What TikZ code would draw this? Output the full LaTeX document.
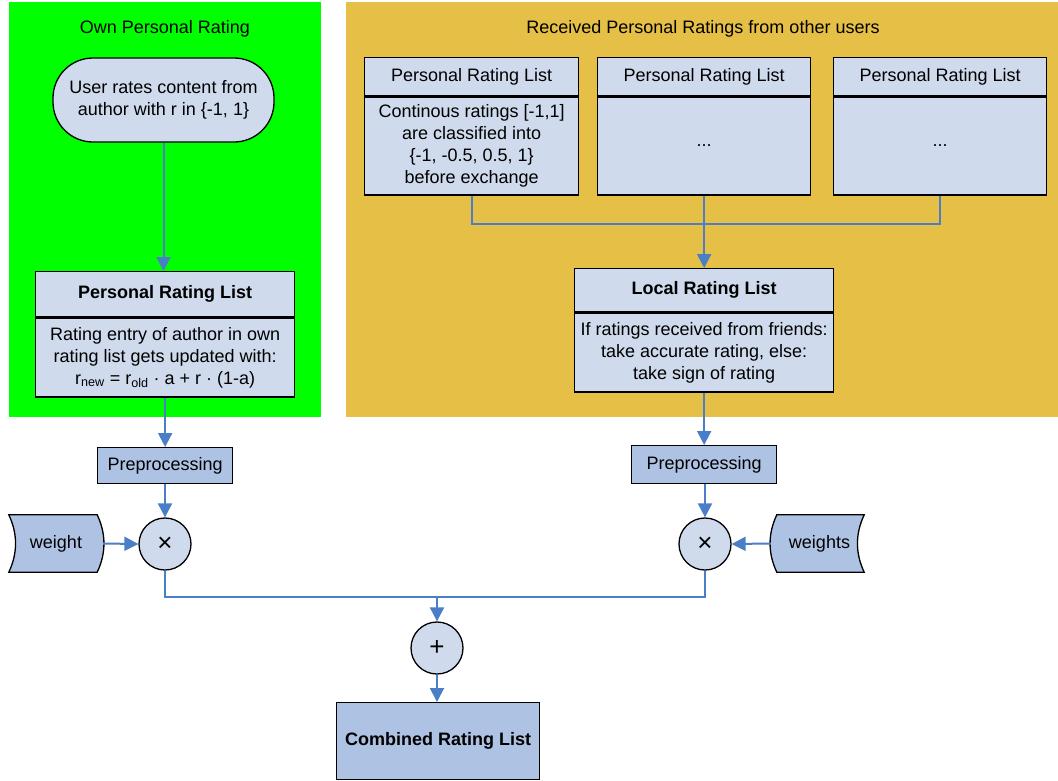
\documentclass[tikz,border=0pt]{standalone}
\usepackage{fontspec}
\setmainfont{Liberation Sans}
\usetikzlibrary{arrows.meta}
\definecolor{ownbg}{HTML}{00FF00}
\definecolor{recvbg}{HTML}{E6BF46}
\definecolor{boxfill}{HTML}{CFDBED}
\definecolor{darkfill}{HTML}{AEC3E3}
\definecolor{link}{HTML}{4A7EC6}

\begin{document}
\begin{tikzpicture}[x=1pt,y=-1pt,
  every node/.style={font=\fontsize{18}{22}\selectfont, inner sep=0pt, align=center},
  lbox/.style={draw=black, line width=1.3pt, fill=boxfill},
  dbox/.style={draw=black, line width=1.3pt, fill=darkfill},
  conn/.style={draw=link, line width=2pt},
  arr/.style={conn, -{Triangle[length=14pt,width=14pt]}},
  op/.style={circle, draw=black, line width=1.3pt, fill=boxfill, minimum size=52pt, font=\fontsize{26}{26}\selectfont},
  store/.style={draw=black, line width=1.3pt, fill=darkfill},
]
\useasboundingbox (0,0) rectangle (1058,780);

% background groups
\fill[ownbg] (9,2) rectangle (321,417);
\fill[recvbg] (346,2) rectangle (1058,417);
\node (owntitle) at (165,29) {Own Personal Rating};
\node (recvtitle) at (703,29) {Received Personal Ratings from other users};

% own rating
\node[lbox, rounded corners=40pt, minimum width=221pt, minimum height=84pt] (user) at (163.5,100)
  {User rates content from\\author with r in \{-1, 1\}};
\node[lbox, minimum width=259pt, minimum height=45pt, anchor=north west] (plh) at (35,271)
  {\bfseries Personal Rating List};
\node[lbox, minimum width=259pt, minimum height=79pt, anchor=north] (plb) at (plh.south)
  {Rating entry of author in own\\rating list gets updated with:\\
   r\textsubscript{new} = r\textsubscript{old} · a + r · (1-a)};

% received ratings
\node[lbox, minimum width=214pt, minimum height=38pt, anchor=north west] (r1h) at (364,57) {Personal Rating List};
\node[lbox, minimum width=214pt, minimum height=98pt, anchor=north] (r1b) at (r1h.south)
  {Continous ratings [-1,1]\\are classified into\\\{-1, -0.5, 0.5, 1\}\\before exchange};
\node[lbox, minimum width=213pt, minimum height=38pt, anchor=north west] (r2h) at (597,57) {Personal Rating List};
\node[lbox, minimum width=213pt, minimum height=98pt, anchor=north] (r2b) at (r2h.south) {...};
\node[lbox, minimum width=213pt, minimum height=38pt, anchor=north west] (r3h) at (833,57) {Personal Rating List};
\node[lbox, minimum width=213pt, minimum height=98pt, anchor=north] (r3b) at (r3h.south) {...};

\node[lbox, minimum width=259pt, minimum height=43pt, anchor=north west] (lrh) at (574,268)
  {\bfseries Local Rating List};
\node[lbox, minimum width=259pt, minimum height=79pt, anchor=north] (lrb) at (lrh.south)
  {If ratings received from friends:\\take accurate rating, else:\\take sign of rating};

% preprocessing and weighting
\node[dbox, minimum width=135pt, minimum height=36pt, anchor=north west] (ppl) at (97,447) {Preprocessing};
\node[dbox, minimum width=145pt, minimum height=38pt, anchor=north west] (ppr) at (631,445) {Preprocessing};
\node[op] (m1) at (165,544) {×};
\node[op] (m2) at (705,544) {×};
\node[op] (plus) at (437,648) {+};

% stored-data shapes holding the weights
\node[minimum width=88pt, minimum height=57pt] (w1) at (53,543.5) {};
\path[store] (w1.north west) -- (w1.north east)
  .. controls ([xshift=9pt,yshift=-19pt]w1.north east) and ([xshift=9pt,yshift=19pt]w1.south east) .. (w1.south east)
  -- (w1.south west)
  .. controls ([xshift=9pt,yshift=19pt]w1.south west) and ([xshift=9pt,yshift=-19pt]w1.north west) .. (w1.north west) -- cycle;
\node (w1text) at ([xshift=3pt]w1) {weight};

\node[minimum width=87pt, minimum height=57pt] (w2) at (820.5,543.5) {};
\path[store] (w2.north west) -- (w2.north east)
  .. controls ([xshift=-9pt,yshift=-19pt]w2.north east) and ([xshift=-9pt,yshift=19pt]w2.south east) .. (w2.south east)
  -- (w2.south west)
  .. controls ([xshift=-9pt,yshift=19pt]w2.south west) and ([xshift=-9pt,yshift=-19pt]w2.north west) .. (w2.north west) -- cycle;
\node (w2text) at ([xshift=-1pt]w2) {weights};

\node[dbox, font=\fontsize{18}{22}\selectfont\bfseries, minimum width=203pt, minimum height=77pt, anchor=north west] (comb) at (336,702)
  {Combined Rating List};

% connectors
\draw[arr] (user.south) -- (user.south |- plh.north);
\draw[arr] (plb.south -| ppl.north) -- (ppl.north);
\draw[arr] (ppl.south -| m1.north) -- (m1.north);
\draw[arr] ([xshift=6pt]w1.east) -- (m1.west);
\draw[arr] ([xshift=-6pt]w2.west) -- (m2.east);

\coordinate (tbus) at (705,224);
\draw[conn] (r1b.south) |- (tbus) -| (r3b.south);
\draw[arr] (r2b.south) -- (r2b.south |- lrh.north);
\draw[arr] (lrb.south -| ppr.north) -- (ppr.north);
\draw[arr] (ppr.south -| m2.north) -- (m2.north);

\coordinate (bus) at (437,597);
\draw[conn] (m1.south) |- (bus) -| (m2.south);
\draw[arr] (bus) -- (plus.north);
\draw[arr] (plus.south) -- (plus.south |- comb.north);
\end{tikzpicture}
\end{document}
